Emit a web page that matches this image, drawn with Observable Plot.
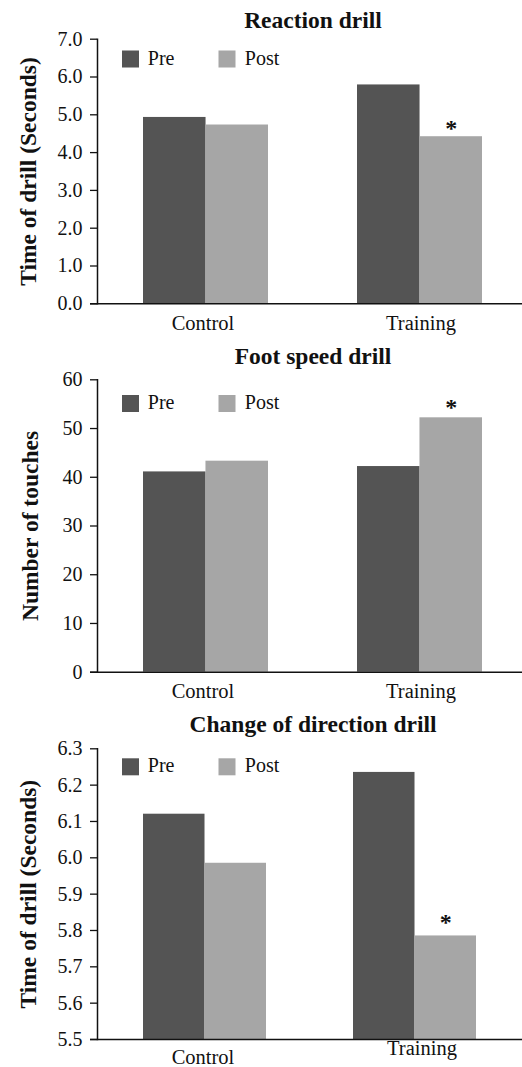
<!DOCTYPE html>
<html><head><meta charset="utf-8">
<script src="https://cdn.jsdelivr.net/npm/d3@7"></script>
<script src="https://cdn.jsdelivr.net/npm/@observablehq/plot@0.6"></script>
<style>
body{margin:0;background:#fff;}
#chart svg{display:block;}
</style></head><body><div id="chart"></div>
<script>
// ---- data ----
const categories = ["Control", "Training"];
const series = ["Pre", "Post"];
const seriesColors = ["#545454", "#a6a6a6"];
const significantPost = [false, true];

const reactionTitle = "Reaction drill";
const reactionLabel = "Time of drill (Seconds)";
const reactionPre = [4.93, 5.79];
const reactionPost = [4.73, 4.42];
const reactionTicks = [0, 1, 2, 3, 4, 5, 6, 7];

const footTitle = "Foot speed drill";
const footLabel = "Number of touches";
const footPre = [41.1, 42.2];
const footPost = [43.3, 52.2];
const footTicks = [0, 10, 20, 30, 40, 50, 60];

const codTitle = "Change of direction drill";
const codLabel = "Time of drill (Seconds)";
const codPre = [6.12, 6.235];
const codPost = [5.985, 5.785];
const codTicks = [5.5, 5.6, 5.7, 5.8, 5.9, 6.0, 6.1, 6.2, 6.3];

// ---- layout / style config ----
const W = 522, ML = 97, MR = 0;
const panels = [
  {title: reactionTitle, ylabel: reactionLabel, pre: reactionPre, post: reactionPost, ticks: reactionTicks, fmt: d3.format(".1f"),
   height: 340, mt: 38.7, mb: 36.7, p: 0.418, o: 0.199, align: 0.535,
   titleDy: -18.7, legendDy: 19.8, starDy: -8.5, ylabelDx: -69,
   catDx: [-3, 1], catPad: [11.7, 11.7]},
  {title: footTitle, ylabel: footLabel, pre: footPre, post: footPost, ticks: footTicks, fmt: d3.format("d"),
   height: 365, mt: 39.3, mb: 33.3, p: 0.418, o: 0.199, align: 0.535,
   titleDy: -23.3, legendDy: 23.7, starDy: -10.6, ylabelDx: -67,
   catDx: [-3, 1], catPad: [11.2, 11.2]},
  {title: codTitle, ylabel: codLabel, pre: codPre, post: codPost, ticks: codTicks, fmt: d3.format(".1f"),
   height: 362, mt: 43.3, mb: 28, p: 0.416, o: 0.217, align: 0.5,
   titleDy: -24.3, legendDy: 18, starDy: -14, ylabelDx: -69,
   catDx: [-2, 7], catPad: [9.5, 1.4]}
];

const container = document.getElementById("chart");

for (const P of panels) {
  const rows = categories.flatMap((c, i) => series.map((s, j) => ({
    category: c, series: s, value: j === 0 ? P.pre[i] : P.post[i], sig: j === 1 && significantPost[i]
  })));
  const y0 = P.ticks[0], y1 = P.ticks[P.ticks.length - 1];
  const step = (W - ML - MR) / (categories.length - P.p + 2 * P.o);
  const bw = step * (1 - P.p);

  const marks = [
    Plot.barY(rows.filter(d => d.series === "Pre"), {x: "category", y1: () => y0, y2: "value", fill: "series", insetRight: bw / 2}),
    Plot.barY(rows.filter(d => d.series === "Post"), {x: "category", y1: () => y0, y2: "value", fill: "series", insetLeft: bw / 2}),
    Plot.text(rows.filter(d => d.sig), {x: "category", y: "value", text: () => "*", dx: bw / 4, dy: P.starDy, fontSize: 24, fontWeight: "bold", fill: "#111"}),
    Plot.frame({anchor: "left", strokeWidth: 1.5, stroke: "#111"}),
    Plot.ruleY([y0], {insetLeft: -7, strokeWidth: 1.5, stroke: "#111"}),
    Plot.axisY({ticks: P.ticks, tickFormat: P.fmt, tickSize: 7, tickPadding: 8, fontSize: 20, label: null, strokeWidth: 1.3}),
    ...categories.map((c, i) => Plot.axisX([c], {tickSize: 0, tickPadding: P.catPad[i], dx: P.catDx[i], fontSize: 20.5, label: null})),
    Plot.text([P.title], {text: d => d, frameAnchor: "top", lineAnchor: "middle", textAnchor: "middle", dx: 3, dy: P.titleDy, fontSize: 23.5, fontWeight: "bold", fill: "#111"}),
    Plot.text([P.ylabel], {text: d => d, frameAnchor: "left", textAnchor: "middle", lineAnchor: "middle", rotate: -90, dx: P.ylabelDx, fontSize: 23.5, fontWeight: "bold", fill: "#111"}),
    ...series.map((s, i) => Plot.dot([s], {fill: d => d, symbol: "square", r: 9.6, frameAnchor: "top-left", dx: 33 + i * 96.5, dy: P.legendDy})),
    ...series.map((s, i) => Plot.text([s], {text: d => d, frameAnchor: "top-left", textAnchor: "start", lineAnchor: "middle", dx: 50.3 + i * 97, dy: P.legendDy - 0.8, fontSize: 20, fill: "#111"}))
  ];

  const chart = Plot.plot({
    width: W, height: P.height,
    marginLeft: ML, marginRight: MR, marginTop: P.mt, marginBottom: P.mb,
    style: {fontFamily: "'Liberation Serif', 'Times New Roman', serif", fontSize: "20px", color: "#111", background: "#fff"},
    x: {type: "band", domain: categories, paddingInner: P.p, paddingOuter: P.o, align: P.align, label: null},
    y: {domain: [y0, y1], label: null},
    color: {domain: series, range: seriesColors},
    marks
  });
  container.appendChild(chart);
}
</script></body></html>
